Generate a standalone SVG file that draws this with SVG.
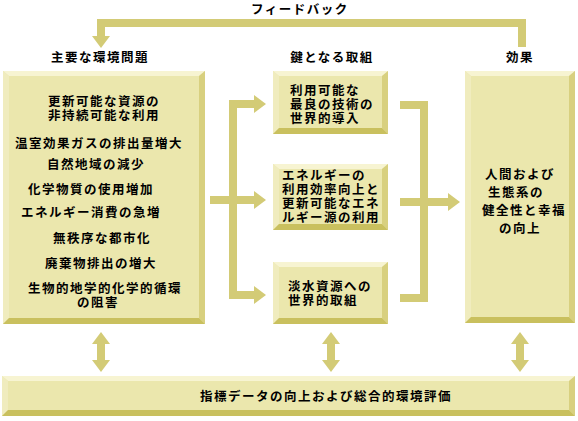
<svg xmlns="http://www.w3.org/2000/svg" width="578" height="421" viewBox="0 0 578 421">
<style>
  .face{fill:#ebe7ad}
  .bt{fill:#f7f4d2}
  .bl{fill:#f0ecbe}
  .br{fill:#d8d07f}
  .bb{fill:#c9c05e}
  .t{font-family:"Noto Sans CJK JP","Noto Sans CJK SC",sans-serif;font-size:12.5px;font-weight:bold;fill:#000;letter-spacing:1.5px}
  .c{text-anchor:middle}
  .con{fill:none;stroke:#d3cb76;stroke-width:8;stroke-linejoin:miter;stroke-linecap:butt}
</style>
<defs>
  <marker id="ah" markerUnits="userSpaceOnUse" markerWidth="12" markerHeight="18" refX="0" refY="9" orient="auto-start-reverse" viewBox="0 0 12 18">
    <path d="M0,0 L12,9 L0,18 z" fill="#d3cb76"/>
  </marker>
</defs>
<rect width="578" height="421" fill="#ffffff"/>

<g id="connectors">
  <path class="con" d="M522,47 V23 H101 V36" marker-end="url(#ah)"/>
  <path class="con" d="M254,104 H233 V295 H254" marker-start="url(#ah)" marker-end="url(#ah)"/>
  <path class="con" d="M210,200 H254" marker-end="url(#ah)"/>
  <path class="con" d="M400,105 H424 V298 H400"/>
  <path class="con" d="M400,202 H448" marker-end="url(#ah)"/>
  <path class="con" d="M101,344 V360" marker-start="url(#ah)" marker-end="url(#ah)"/>
  <path class="con" d="M331,344 V360" marker-start="url(#ah)" marker-end="url(#ah)"/>
  <path class="con" d="M520,344 V360" marker-start="url(#ah)" marker-end="url(#ah)"/>
  <text class="t c" x="300" y="14">フィードバック</text>
</g>

<g id="headers">
  <text class="t c" x="100" y="62">主要な環境問題</text>
  <text class="t c" x="332" y="62">鍵となる取組</text>
  <text class="t c" x="520" y="62">効果</text>
</g>

<g id="n-problems">
  <rect class="face" x="3" y="71" width="202" height="253"/>
  <polygon class="bt" points="3,71 205,71 199,76 9,76"/>
  <polygon class="bl" points="3,71 9,76 9,318 3,324"/>
  <polygon class="br" points="205,71 205,324 199,318 199,76"/>
  <polygon class="bb" points="3,324 9,318 199,318 205,324"/>
  <text class="t c" x="104" y="106">更新可能な資源の<tspan x="104" dy="14">非持続可能な利用</tspan></text>
  <text class="t c" x="99" y="148">温室効果ガスの排出量増大</text>
  <text class="t c" x="96" y="169">自然地域の減少</text>
  <text class="t c" x="91" y="194">化学物質の使用増加</text>
  <text class="t c" x="91" y="217">エネルギー消費の急増</text>
  <text class="t c" x="102" y="243">無秩序な都市化</text>
  <text class="t c" x="101" y="268">廃棄物排出の増大</text>
  <text class="t c" x="105" y="293">生物的地学的化学的循環<tspan x="98" dy="14">の阻害</tspan></text>
</g>

<g id="n-action1">
  <rect class="face" x="273" y="71" width="115" height="63"/>
  <polygon class="bt" points="273,71 388,71 382,76 279,76"/>
  <polygon class="bl" points="273,71 279,76 279,128 273,134"/>
  <polygon class="br" points="388,71 388,134 382,128 382,76"/>
  <polygon class="bb" points="273,134 279,128 382,128 388,134"/>
  <text class="t" x="290" y="95">利用可能な<tspan x="290" dy="14">最良の技術の</tspan><tspan x="290" dy="14">世界的導入</tspan></text>
</g>

<g id="n-action2">
  <rect class="face" x="273" y="164" width="115" height="66"/>
  <polygon class="bt" points="273,164 388,164 382,169 279,169"/>
  <polygon class="bl" points="273,164 279,169 279,224 273,230"/>
  <polygon class="br" points="388,164 388,230 382,224 382,169"/>
  <polygon class="bb" points="273,230 279,224 382,224 388,230"/>
  <text class="t" x="282" y="180">エネルギーの<tspan x="282" dy="14">利用効率向上と</tspan><tspan x="282" dy="14">更新可能なエネ</tspan><tspan x="282" dy="14">ルギー源の利用</tspan></text>
</g>

<g id="n-action3">
  <rect class="face" x="273" y="262" width="115" height="62"/>
  <polygon class="bt" points="273,262 388,262 382,267 279,267"/>
  <polygon class="bl" points="273,262 279,267 279,318 273,324"/>
  <polygon class="br" points="388,262 388,324 382,318 382,267"/>
  <polygon class="bb" points="273,324 279,318 382,318 388,324"/>
  <text class="t" x="288" y="291">淡水資源への<tspan x="288" dy="14">世界的取組</tspan></text>
</g>

<g id="n-outcome">
  <rect class="face" x="465" y="71" width="110" height="252"/>
  <polygon class="bt" points="465,71 575,71 569,76 471,76"/>
  <polygon class="bl" points="465,71 471,76 471,317 465,323"/>
  <polygon class="br" points="575,71 575,323 569,317 569,76"/>
  <polygon class="bb" points="465,323 471,317 569,317 575,323"/>
  <text class="t c" x="520" y="179">人間および<tspan x="516" dy="18">生態系の</tspan><tspan x="524" dy="18">健全性と幸福</tspan><tspan x="520" dy="18">の向上</tspan></text>
</g>

<g id="n-assessment">
  <rect class="face" x="2" y="376" width="573" height="40"/>
  <polygon class="bt" points="2,376 575,376 569,381 8,381"/>
  <polygon class="bl" points="2,376 8,381 8,410 2,416"/>
  <polygon class="br" points="575,376 575,416 569,410 569,381"/>
  <polygon class="bb" points="2,416 8,410 569,410 575,416"/>
  <text class="t c" x="326" y="401">指標データの向上および総合的環境評価</text>
</g>
</svg>
